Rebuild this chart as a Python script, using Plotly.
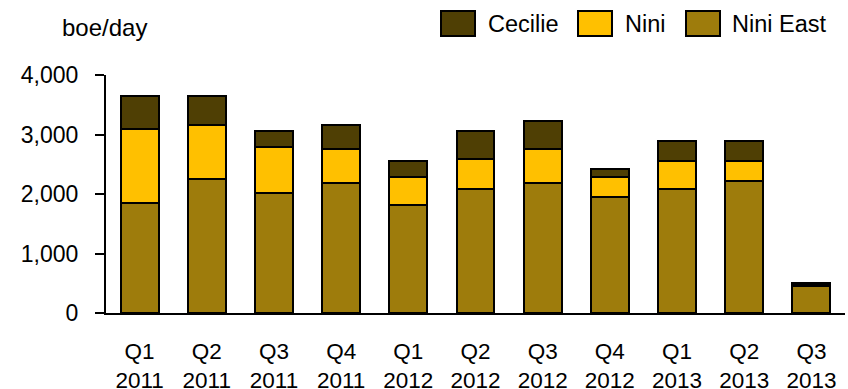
import plotly.graph_objects as go

# Quarterly production, boe/day
quarters = ["Q1<br>2011", "Q2<br>2011", "Q3<br>2011", "Q4<br>2011",
            "Q1<br>2012", "Q2<br>2012", "Q3<br>2012", "Q4<br>2012",
            "Q1<br>2013", "Q2<br>2013", "Q3<br>2013"]
nini_east = [1850, 2260, 2020, 2185, 1815, 2085, 2190, 1950, 2085, 2220, 455]
nini = [1240, 905, 770, 570, 470, 505, 565, 340, 465, 330, 15]
cecilie = [560, 485, 270, 410, 270, 475, 475, 135, 345, 345, 30]

y_ticks = [0, 1000, 2000, 3000, 4000]
y_tick_text = ["0", "1,000", "2,000", "3,000", "4,000"]

series = [
    ("Nini East", nini_east, "#9E7C0C"),
    ("Nini", nini, "#FFC000"),
    ("Cecilie", cecilie, "#4F3F04"),
]

FONT = "Liberation Sans, Arial, sans-serif"
W, H = 848, 389
L, R, T, B = 106, 3, 75, 76
plot_w = W - L - R
plot_h = H - T - B

fig = go.Figure()
for name, vals, color in series:
    fig.add_trace(go.Bar(
        x=quarters, y=vals, name=name,
        marker=dict(color=color, line=dict(color="black", width=2)),
        showlegend=False,
    ))


def px_x(px):
    return (px - L) / plot_w


def px_y(py):
    return (H - B - py) / plot_h


# Legend drawn as boxes plus labels across the top
legend_items = [
    ("Cecilie", "#4F3F04", 441, 475, 486),
    ("Nini", "#FFC000", 578, 612, 623),
    ("Nini East", "#9E7C0C", 686, 720, 730),
]
shapes = []
annotations = []
for label, color, bx0, bx1, tx in legend_items:
    shapes.append(dict(
        type="rect", xref="paper", yref="paper",
        x0=px_x(bx0), x1=px_x(bx1), y0=px_y(36), y1=px_y(11),
        fillcolor=color, line=dict(color="black", width=2),
    ))
    annotations.append(dict(
        text=label, xref="paper", yref="paper",
        x=px_x(tx), y=px_y(24), xanchor="left", yanchor="middle",
        showarrow=False, font=dict(family=FONT, size=23.5, color="black"),
    ))

annotations.append(dict(
    text="boe/day", xref="paper", yref="paper",
    x=px_x(60), y=px_y(27), xanchor="left", yanchor="middle",
    showarrow=False, font=dict(family=FONT, size=24, color="black"),
))

fig.update_layout(
    width=W, height=H,
    margin=dict(l=L, r=R, t=T, b=B),
    paper_bgcolor="white", plot_bgcolor="white",
    barmode="stack", bargap=0.435,
    font=dict(family=FONT, size=22, color="black"),
    shapes=shapes, annotations=annotations,
    xaxis=dict(
        showline=True, linecolor="black", linewidth=2,
        ticks="", showgrid=False, zeroline=False,
        tickfont=dict(size=22.5),
        ticklabelstandoff=17,
        automargin=False,
    ),
    yaxis=dict(
        range=[0, 4000], tickvals=y_ticks, ticktext=y_tick_text,
        showline=True, linecolor="black", linewidth=2,
        ticks="outside", ticklen=9, tickwidth=2, tickcolor="black",
        showgrid=False, zeroline=False,
        tickfont=dict(size=23),
        ticklabelstandoff=12,
        automargin=False,
    ),
)

fig.write_html("out.html")
